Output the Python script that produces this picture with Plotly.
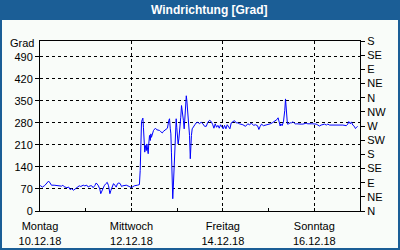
import pandas as pd
import plotly.graph_objects as go

# ---- data ----
start = "2018-12-10 00:00"
hours = [0.1, 1.3, 2.5, 3.6, 4.5, 5.3, 6.0, 7.4, 9.2, 10.2, 11.3, 12.0, 12.7, 14.1, 15.1, 15.8,
         16.5, 17.6, 18.5, 19.7, 20.6, 21.4, 22.7, 23.5, 24.6, 25.3, 26.3, 27.2, 27.9, 28.8,
         29.5, 30.5, 31.4, 31.9, 32.8, 33.7, 34.6, 35.3, 36.0, 36.7, 37.2, 37.9, 38.6, 39.3,
         40.0, 40.7, 41.4, 42.1, 42.8, 43.5, 44.5, 45.3, 46.8, 48.0, 49.5, 50.3, 51.2,
         52.2, 52.6, 53.3, 53.7, 54.0, 54.3, 54.7, 55.0, 55.4, 55.8, 56.1, 56.4, 56.8, 57.1,
         57.5, 57.9, 58.2, 58.5, 58.9, 59.6, 60.3, 60.6, 61.3, 62.0, 62.7, 63.4, 64.2, 64.8,
         65.5, 66.3, 66.9, 67.6, 68.0, 68.4, 68.7, 69.0, 69.4, 69.7, 70.1, 70.5, 70.8, 71.1,
         71.5, 71.8, 72.2, 72.5, 72.9, 73.2, 73.6, 73.9, 74.3, 74.7, 75.0, 75.3, 75.7, 76.0,
         76.4, 76.8, 77.1, 77.4, 77.8, 78.1, 78.5, 78.9, 79.2, 79.5, 79.9, 80.6, 81.3, 82.0,
         82.9, 83.7, 84.6, 85.5, 86.4, 87.3, 88.1, 89.0, 89.9, 90.7, 91.3, 92.0, 92.7, 93.4,
         94.1, 94.8, 95.5, 96.2, 96.9, 97.6, 98.3, 99.0, 99.7, 100.4, 101.3, 102.1, 103.0,
         103.9, 104.7, 106.5, 107.9, 109.1, 110.0, 111.0, 112.1, 113.1, 114.2, 114.9, 115.6,
         116.3, 117.3, 118.8, 119.8, 120.9, 121.9, 123.0, 123.6, 124.3, 125.0, 125.7, 126.1,
         126.4, 127.1, 127.8, 128.2, 128.5, 128.9, 129.2, 129.6, 129.9, 130.6, 131.3, 132.0,
         132.7, 133.5, 134.1, 134.8, 135.6, 136.2, 137.1, 138.0, 138.9, 139.7, 140.6, 141.5,
         142.4, 143.2, 144.1, 145.0, 145.9, 146.7, 147.6, 148.5, 149.4, 150.3, 151.1, 152.0,
         153.7, 155.5, 157.2, 159.0, 160.8, 161.6, 162.1, 162.9, 163.5, 164.2, 165.0, 165.6,
         166.3, 166.7]
degrees = [81, 76, 81, 89, 95, 89, 82, 82, 81, 82, 79, 82, 77, 74, 76, 68,
           71, 66, 70, 76, 80, 78, 82, 80, 82, 76, 80, 80, 74, 81,
           89, 82, 70, 55, 70, 80, 87, 91, 80, 55, 65, 80, 87, 82,
           76, 87, 89, 87, 78, 80, 82, 82, 78, 74, 80, 82, 82,
           84, 129, 284, 290, 295, 266, 213, 187, 208, 192, 213, 203, 182, 213,
           240, 224, 245, 234, 245, 256, 261, 263, 258, 258, 256, 252, 248, 253,
           256, 259, 263, 287, 293, 261, 245, 187, 103, 39, 92, 145, 198, 256,
           293, 266, 240, 213, 229, 261, 272, 298, 335, 319, 303, 287, 261, 293,
           335, 366, 350, 324, 282, 245, 240, 166, 218, 240, 261, 266, 274, 280,
           282, 277, 282, 277, 269, 269, 282, 288, 284, 274, 263, 277, 266, 272,
           263, 274, 266, 261, 272, 261, 274, 266, 261, 280, 284, 287, 280,
           280, 277, 274, 269, 277, 274, 279, 272, 274, 271, 259, 269,
           276, 271, 273, 274, 277, 280, 284, 287, 290, 296, 283, 270,
           277, 271, 283, 298, 319, 356, 319, 283, 276, 277, 280, 280,
           283, 280, 276, 277, 276, 277, 276, 276, 277, 279, 277, 276,
           277, 277, 277, 276, 273, 270, 273, 274, 276, 273, 276, 273,
           273, 274, 274, 273, 271, 276, 284, 277, 283, 273, 269, 262,
           266, 269]

x_labels_dates = ["2018-12-10", "2018-12-12", "2018-12-14", "2018-12-16"]
x_labels_text = ["Montag<br>10.12.18", "Mittwoch<br>12.12.18", "Freitag<br>14.12.18", "Sonntag<br>16.12.18"]
left_ticks = [0, 70, 140, 210, 280, 350, 420, 490]
right_ticks = [0, 45, 90, 135, 180, 225, 270, 315, 360, 405, 450, 495, 540]
right_labels = ["N", "NE", "E", "SE", "S", "SW", "W", "NW", "N", "NE", "E", "SE", "S"]
title_text = "Windrichtung [Grad]"
unit_text = "Grad"

# ---- figure ----
times = pd.Timestamp(start) + pd.to_timedelta(hours, unit="h")

BLUE = "#1b5e96"
BG = "#f9fcf9"
FONT = "Liberation Sans"

fig = go.Figure()
fig.add_trace(go.Scatter(x=times, y=degrees, mode="lines",
                         line=dict(color="#0000ff", width=1), showlegend=False,
                         hoverinfo="skip"))
fig.add_trace(go.Scatter(x=[times[0]], y=[None], yaxis="y2", mode="lines",
                         showlegend=False, hoverinfo="skip"))

W, H = 400, 250
L, R, T, B = 40, 40, 41, 39
pw, ph = W - L - R, H - T - B

def px_x(p):
    return (p - L) / pw

def px_y(p):
    return (H - B - p) / ph

fig.update_layout(
    width=W, height=H,
    margin=dict(l=L, r=R, t=T, b=B, pad=0, autoexpand=False),
    paper_bgcolor=BLUE, plot_bgcolor=BG,
    font=dict(family=FONT, size=11, color="black"),
    xaxis=dict(type="date", range=["2018-12-10", "2018-12-17"], automargin=False,
               tickmode="array", tickvals=x_labels_dates, ticktext=x_labels_text,
               ticks="inside", ticklen=3, tickcolor="black", ticklabelstandoff=5,
               showgrid=True, gridcolor="black", gridwidth=1, griddash="3px,3px",
               showline=True, linecolor="black", linewidth=1, mirror=True,
               zeroline=False,
               minor=dict(tickmode="linear", tick0="2018-12-10", dtick=86400000,
                          ticks="inside", ticklen=3, tickcolor="black", showgrid=False)),
    yaxis=dict(range=[0, 540], tickmode="array", tickvals=left_ticks, automargin=False,
               ticks="outside", ticklen=4, tickcolor="black",
               showgrid=True, gridcolor="black", gridwidth=1, griddash="3px,3px",
               showline=True, linecolor="black", linewidth=1, zeroline=False),
    yaxis2=dict(range=[0, 540], overlaying="y", side="right", tickmode="array",
                tickvals=right_ticks, ticktext=right_labels, automargin=False,
                ticks="outside", ticklen=4, tickcolor="black",
                showgrid=False, showline=True, linecolor="black", linewidth=1,
                zeroline=False),
    shapes=[dict(type="rect", xref="paper", yref="paper", layer="below",
                 x0=px_x(2), x1=px_x(398), y0=px_y(248), y1=px_y(20),
                 fillcolor=BG, line=dict(width=0))],
    annotations=[
        dict(text="<b>" + title_text + "</b>", xref="paper", yref="paper",
             x=px_x(209), y=px_y(10.5), xanchor="center", yanchor="middle",
             showarrow=False, font=dict(family=FONT, size=12, color="white")),
        dict(text=unit_text, xref="paper", yref="paper",
             x=px_x(36), y=px_y(43.5), xanchor="right", yanchor="middle",
             showarrow=False, font=dict(family=FONT, size=11, color="black")),
    ],
)

fig.write_html("out.html")
